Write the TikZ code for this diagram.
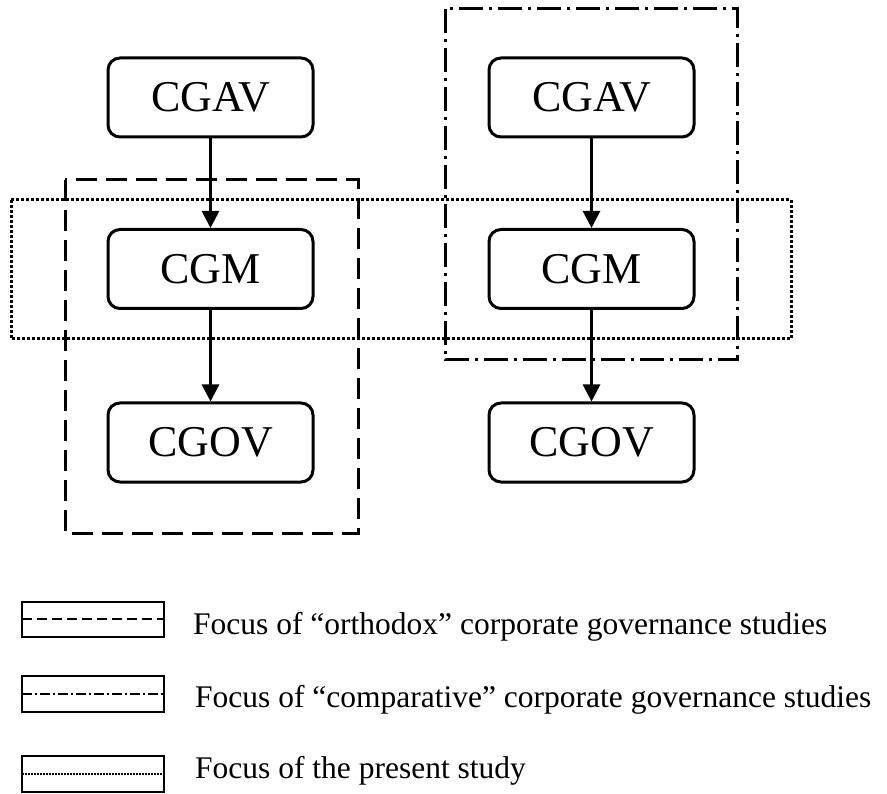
\documentclass[tikz,border=0pt]{standalone}
\usepackage{fontspec}
\setmainfont{Liberation Serif}
\usetikzlibrary{arrows.meta}
\tikzset{
  vbox/.style={draw, line width=3pt, rounded corners=12pt, fill=white,
    minimum width=205pt, minimum height=79pt, inner sep=0pt,
    font=\fontsize{44}{50}\selectfont},
  flow/.style={line width=2.8pt, -{Triangle[length=17pt,width=17pt]}},
  orthobox/.style={line width=3pt, dash pattern=on 21pt off 9pt},
  compbox/.style={line width=3pt, dash pattern=on 24pt off 6pt on 3pt off 6pt},
  presbox/.style={line width=3pt, dash pattern=on 3pt off 2pt},
}
\begin{document}
\begin{tikzpicture}[x=1pt,y=-1pt]
\useasboundingbox (0,0) rectangle (887,794);
% focus boxes
\draw[orthobox] (65,180) rectangle (358,533);
\draw[compbox] (445,9) rectangle (737,360);
\draw[presbox] (11,200) rectangle (791,339);
% nodes
\node[vbox] (lav) at (210.5,97.5) {CGAV};
\node[vbox] (lm) at (210.5,269) {CGM};
\node[vbox] (lov) at (210.5,442.5) {CGOV};
\node[vbox] (rav) at (591.5,97.5) {CGAV};
\node[vbox] (rm) at (591.5,269) {CGM};
\node[vbox] (rov) at (591.5,442.5) {CGOV};
\draw[flow] (lav) -- (lm);
\draw[flow] (lm) -- (lov);
\draw[flow] (rav) -- (rm);
\draw[flow] (rm) -- (rov);
% legend
\draw[line width=2.2pt] (22,602) rectangle (164,637);
\draw[line width=1.6pt, dash pattern=on 10pt off 5pt] (22,619) -- (164,619);
\draw[line width=2.2pt] (22,676) rectangle (164,712);
\draw[line width=1.6pt, dash pattern=on 10pt off 3pt on 2pt off 3pt] (22,694) -- (164,694);
\draw[line width=2.2pt] (22,756) rectangle (164,792);
\draw[line width=1.3pt, dash pattern=on 1.5pt off 1.5pt] (22,774) -- (164,774);
\node[anchor=base west, inner sep=0pt, font=\fontsize{31.5}{36}\selectfont] (t1) at (193,634) {Focus of “orthodox” corporate governance studies};
\node[anchor=base west, inner sep=0pt, font=\fontsize{31.5}{36}\selectfont] (t2) at (195,707) {Focus of “comparative” corporate governance studies};
\node[anchor=base west, inner sep=0pt, font=\fontsize{31.5}{36}\selectfont] (t3) at (195,778) {Focus of the present study};
\end{tikzpicture}
\end{document}
